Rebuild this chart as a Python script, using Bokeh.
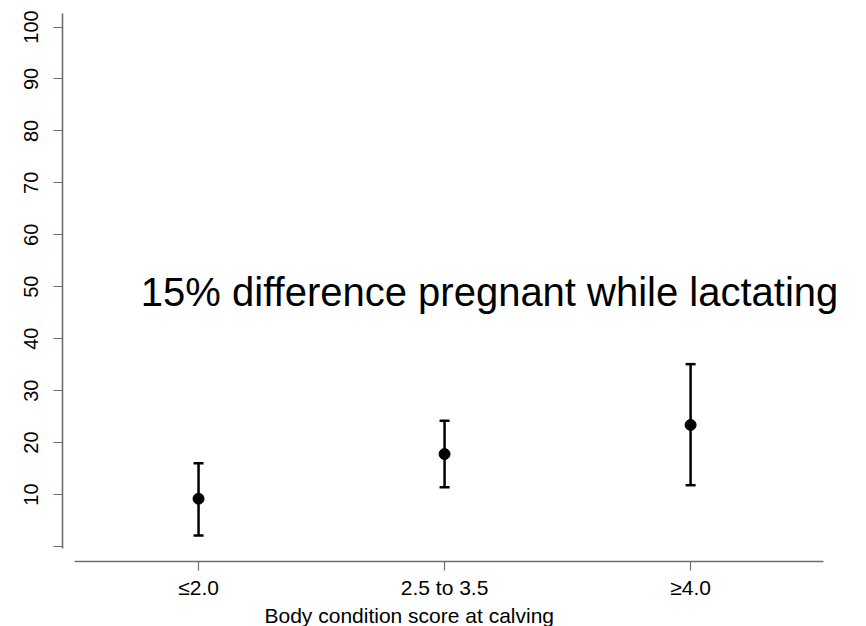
from bokeh.plotting import figure
from bokeh.models import ColumnDataSource, Whisker, TeeHead, FixedTicker, Label, Range1d, Title
from bokeh.embed import file_html
from bokeh.resources import INLINE

# ---- data ----
categories = ["≤2.0", "2.5 to 3.5", "≥4.0"]
positions = [1, 2, 3]
estimate = [9.2, 17.8, 23.4]
lower = [2.1, 11.4, 11.8]
upper = [16.0, 24.2, 35.1]
y_ticks = [0, 10, 20, 30, 40, 50, 60, 70, 80, 90, 100]
y_tick_labels = ["", "10", "20", "30", "40", "50", "60", "70", "80", "90", "100"]
annotation_text = "15% difference pregnant while lactating"
x_title = "Body condition score at calving"

FONT = "Liberation Sans"
AXIS_COLOR = "#6e6e6e"

src = ColumnDataSource(dict(x=positions, y=estimate, lo=lower, hi=upper))

p = figure(width=866, height=626, output_backend="svg", toolbar_location=None,
           x_range=Range1d(0.447, 3.715), y_range=Range1d(-2.89, 102.6),
           min_border_left=62, min_border_right=0, min_border_top=13,
           min_border_bottom=65)
p.outline_line_color = None
p.grid.visible = False
p.background_fill_color = "white"
p.border_fill_color = "white"

# error bars
w = Whisker(source=src, base="x", lower="lo", upper="hi",
            line_color="black", line_width=2.5,
            lower_head=TeeHead(size=10, line_color="black", line_width=2.5),
            upper_head=TeeHead(size=10, line_color="black", line_width=2.5))
p.add_layout(w)
p.scatter("x", "y", source=src, size=11, color="black")

# x axis
xa = p.xaxis[0]
xa.ticker = FixedTicker(ticks=positions)
xa.major_label_overrides = {pos: lab for pos, lab in zip(positions, categories)}
xa.bounds = (0.496, 3.541)
xa.axis_line_color = AXIS_COLOR
xa.axis_line_width = 1.6
xa.major_tick_line_color = AXIS_COLOR
xa.major_tick_line_width = 1.2
xa.major_tick_in = 0
xa.major_tick_out = 9
xa.minor_tick_line_color = None
xa.major_label_text_font = FONT
xa.major_label_text_font_size = "21px"
xa.major_label_text_color = "black"
xa.major_label_standoff = 5

# y axis
ya = p.yaxis[0]
ya.ticker = FixedTicker(ticks=y_ticks)
ya.major_label_overrides = {t: lab for t, lab in zip(y_ticks, y_tick_labels)}
ya.bounds = (-0.3, 102.6)
ya.axis_line_color = AXIS_COLOR
ya.axis_line_width = 1.6
ya.major_tick_line_color = AXIS_COLOR
ya.major_tick_line_width = 1.2
ya.major_tick_in = 0
ya.major_tick_out = 9
ya.minor_tick_line_color = None
ya.major_label_orientation = "vertical"
ya.major_label_text_font = FONT
ya.major_label_text_font_size = "20px"
ya.major_label_text_color = "black"
ya.major_label_standoff = 15

# annotation
p.add_layout(Label(x=2.183, y=48.9, text=annotation_text, text_align="center",
                   text_baseline="alphabetic", text_font=FONT,
                   text_font_size="40px", text_color="black"))

# x title (below the axis, placed left-aligned with an offset)
t = Title(text=x_title, align="left", offset=202, text_font=FONT,
          text_font_size="21px", text_font_style="normal", text_color="black",
          standoff=0)
p.add_layout(t, "below")

open("out.html", "w").write(file_html(p, INLINE))
